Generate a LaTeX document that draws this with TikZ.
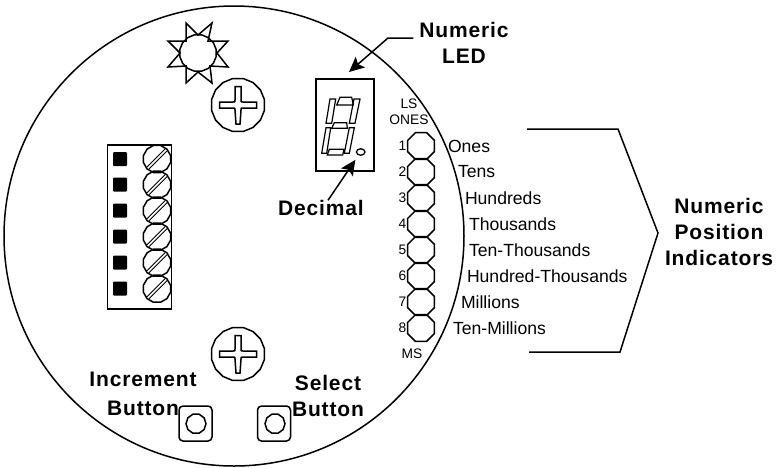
\documentclass[tikz,border=0pt]{standalone}
\usepackage{fontspec}
\setmainfont{Liberation Sans}
\newfontfamily\wideface[LetterSpace=4.0]{Liberation Sans}
\usetikzlibrary{arrows.meta}
\usetikzlibrary{shapes.geometric}
\tikzset{every node/.style={align=center, inner sep=0pt, outer sep=0pt},
         outline/.style={draw, line width=1.5pt},
         bigscrew/.style={outline, regular polygon, regular polygon sides=16, minimum size=54pt},
         smallscrew/.style={outline, regular polygon, regular polygon sides=12, minimum size=28pt},
         ledlamp/.style={outline, regular polygon, regular polygon sides=8, minimum size=29pt}, % Lamps touch each other
         slot/.style={draw, double, line width=1.1pt, double distance=1.6pt},
         segment/.style={draw, line width=1.2pt},
         leader/.style={draw, line width=1.5pt, -{Stealth[length=15pt,width=14pt,inset=3pt]}},
         title/.style={font=\wideface\bfseries\fontsize{21}{26}\selectfont},
         posname/.style={anchor=west, font=\fontsize{17.6}{20}\selectfont},
         tiny/.style={font=\fontsize{13.8}{16}\selectfont}}

\begin{document}
\begin{tikzpicture}[x=1pt,y=-1pt]
  \useasboundingbox (0,0) rectangle (779,467);

  \node [draw, line width=1.5pt, circle, minimum size=460pt] (plate) at (234,236) {};

  % sun
  \node [outline, regular polygon, regular polygon sides=16, minimum size=37pt] (sun) at (198,53) {};
  \draw [outline] (186,23) -- (198,35) -- (212,23) -- (208,41) -- (228,41) -- (217,53)
    -- (228,67) -- (210,66) -- (212,83) -- (198,72) -- (186,83) -- (186,66) -- (168,67)
    -- (180,53) -- (168,41) -- (186,41) -- cycle;

  % plate screws
  \foreach \n/\y in {upper/105,lower/354} {
    \node [bigscrew] (screw\n) at (238,\y) {};
    \draw [outline, shift={(238,\y)}] (-18.5,-3) -- (-5,-3) .. controls (-3,-3) .. (-3,-5) -- (-3,-18.5)
      -- (3,-18.5) -- (3,-5) .. controls (3,-3) .. (5,-3) -- (18.5,-3) -- (18.5,3) -- (5,3)
      .. controls (3,3) .. (3,5) -- (2,19) -- (-2,19) -- (-3,5) .. controls (-3,3) .. (-5,3)
      -- (-18.5,3) -- cycle;
  }

  % terminal strip
  \node [outline, minimum width=64pt, minimum height=164pt] (strip) at (139.7,227) {};
  \foreach \i/\y in {1/159,2/184.7,3/210.7,4/236.7,5/262.7,6/288.7} {
    \node [fill=black, minimum size=14pt, rounded corners=1pt] (pad\i) at (120,\y) {};
    \node [smallscrew] (term\i) at (157,\y) {};
    \draw [slot, shorten >=1pt, shorten <=1pt] (term\i.225) -- (term\i.45);
  }

  % numeric LED
  \node [outline, minimum width=58pt, minimum height=92pt] (display) at (345,125) {};
  \draw [segment] (340,97.3) -- (351.7,97.3) -- (353.3,105) -- (336.7,105) -- cycle;
  \draw [segment] (330,99) -- (335.7,99) -- (331.7,123.3) -- (326,123.3) -- cycle;
  \draw [segment] (354,99) -- (360,99) -- (355,123.3) -- (349.3,123.3) -- cycle;
  \draw [segment] (334.3,122.7) -- (346.7,122.7) -- (347.3,128.3) -- (331.7,128.3) -- cycle;
  \draw [segment] (326,127.7) -- (330.7,127.7) -- (326.7,153.3) -- (321.7,153.3) -- cycle;
  \draw [segment] (349.3,127.7) -- (354.3,127.7) -- (349.3,153.3) -- (344.3,153.3) -- cycle;
  \draw [segment] (329.3,149.3) -- (344,149.3) -- (342.7,155) -- (327.3,155) -- cycle;
  \node [draw, line width=1.3pt, ellipse, minimum width=8.5pt, minimum height=6.5pt] (point) at (360.7,152) {};

  \node [title] (ledname) at (464,42.5) {Numeric\\LED};
  \coordinate (ledbend) at (388,38);
  \coordinate (ledtip) at (349,72);
  \draw [leader] ([xshift=-6pt]ledname.west |- ledbend) -- (ledbend) -- (ledtip);

  \node [title] (pointname) at (321,208) {Decimal};
  \draw [leader, shorten >=6pt] ([xshift=7pt]pointname.north) -- (point);

  % position lamps
  \node [tiny] (lsname) at (409,112) {LS\\ONES};
  \foreach \i/\y/\x/\name in {1/146/448/Ones,2/172/458/Tens,3/198/465/Hundreds,4/224/469/Thousands,
      5/250/469/Ten-Thousands,6/276/467/Hundred-Thousands,7/302/461/Millions,8/328/453/Ten-Millions} {
    \node [ledlamp] (lamp\i) at (421,\y) {};
    \node [tiny] (num\i) at (402.5,\y) {\i};
    \node [posname] (pos\i) at (\x,\y) {\name};
  }
  \node [tiny] (msname) at (412,354) {MS};

  \coordinate (brtop) at (527,129);
  \coordinate (brupper) at (618,129);
  \coordinate (brtip) at (658,233);
  \coordinate (brlower) at (620,352);
  \coordinate (brend) at (529,352);
  \draw [line width=1.5pt] (brtop) -- (brupper) -- (brtip) -- (brlower) -- (brend);
  \node [title] (posname) at (719,232) {Numeric\\Position\\Indicators};

  % buttons
  \node [title] (incname) at (143,394) {Increment\\[3pt]Button};
  \node [outline, rounded corners=4pt, minimum width=33pt, minimum height=35pt] (incbtn) at (195.5,423.5) {};
  \node [outline, regular polygon, regular polygon sides=10, minimum size=20pt] (inccap) at (196,423.7) {};
  \node [title] (selname) at (328,396) {Select\\Button};
  \node [outline, rounded corners=4pt, minimum width=33pt, minimum height=35pt] (selbtn) at (274,423.5) {};
  \node [outline, regular polygon, regular polygon sides=10, minimum size=20pt] (selcap) at (275,423.7) {};
\end{tikzpicture}
\end{document}
